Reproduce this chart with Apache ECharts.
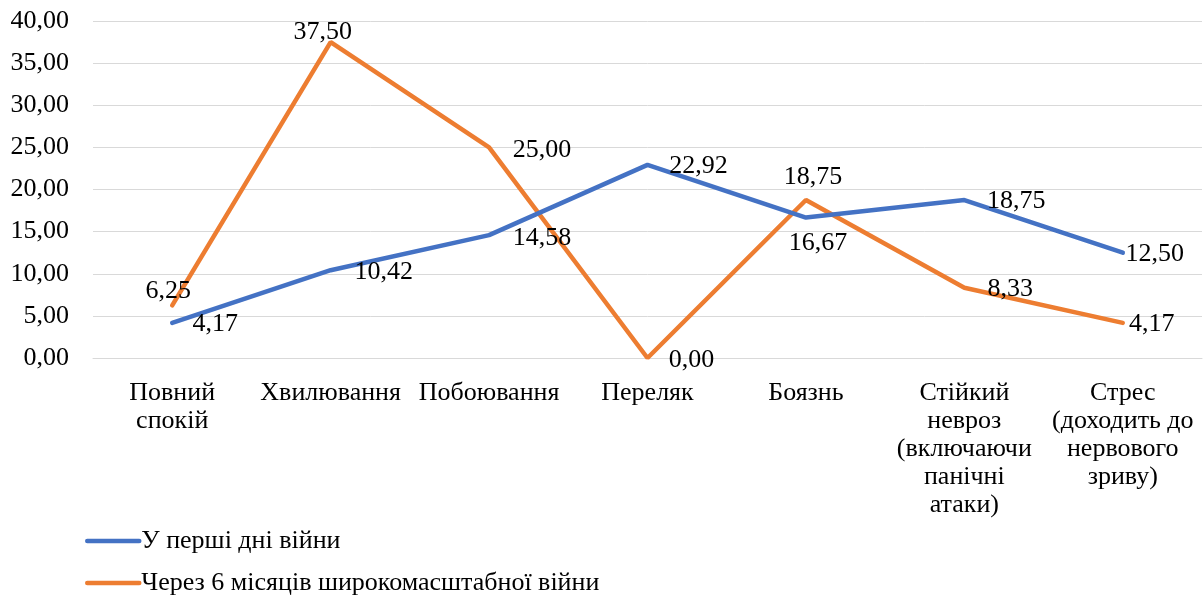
<!DOCTYPE html>
<html>
<head>
<meta charset="utf-8">
<script src="https://cdn.jsdelivr.net/npm/echarts@6/dist/echarts.min.js"></script>
<style>
html,body{margin:0;padding:0;background:#fff;}
#chart{width:1204px;height:601px;}
</style>
</head>
<body>
<div id="chart"></div>
<script>
// ---- data ----
var categories = [
  "Повний\nспокій",
  "Хвилювання",
  "Побоювання",
  "Переляк",
  "Боязнь",
  "Стійкий\nневроз\n(включаючи\nпанічні\nатаки)",
  "Стрес\n(доходить до\nнервового\nзриву)"
];
var seriesNames = ["У перші дні війни", "Через 6 місяців широкомасштабної війни"];
var firstDays = [4.17, 10.42, 14.58, 22.92, 16.67, 18.75, 12.50];
var sixMonths = [6.25, 37.50, 25.00, 0.00, 18.75, 8.33, 4.17];
var yMin = 0, yMax = 40, yStep = 5;

// ---- label placement (styling) ----
var firstOffsets = [[43,1],[53,2],[53,3],[51,1.5],[12,26],[52,1.5],[32,1]];
var sixOffsets = [[-4,-14],[-8,-9.5],[53,3],[44,2],[7,-23],[46,1],[29,1.5]];

function fmt(v){ return Number(v).toFixed(2).replace('.', ','); }
function buildData(vals, offs){
  return vals.map(function(v, i){
    return { value: v, label: { offset: offs[i] } };
  });
}

var FONT = '"Liberation Serif", "Times New Roman", serif';
var chart = echarts.init(document.getElementById('chart'), null, {renderer:'canvas'});
var labelStyle = {
  show: true,
  position: 'inside',
  align: 'center',
  verticalAlign: 'middle',
  color: '#000',
  fontFamily: FONT,
  fontSize: 26,
  formatter: function(p){ return fmt(p.value); }
};
chart.setOption({
  animation: false,
  backgroundColor: '#fff',
  grid: { left: 93, right: 2, top: 21, bottom: 243, containLabel: false },
  xAxis: {
    type: 'category',
    data: categories,
    boundaryGap: true,
    axisLine: { show: true, lineStyle: { color: '#D9D9D9', width: 1 } },
    axisTick: { show: false },
    axisLabel: {
      interval: 0,
      margin: 21,
      color: '#000',
      fontFamily: FONT,
      fontSize: 26,
      lineHeight: 28,
      align: 'center'
    },
    splitLine: { show: false }
  },
  yAxis: {
    type: 'value',
    min: yMin, max: yMax, interval: yStep,
    axisLine: { show: false },
    axisTick: { show: false },
    axisLabel: {
      margin: 24,
      color: '#000',
      fontFamily: FONT,
      fontSize: 26,
      formatter: function(v){ return fmt(v); }
    },
    splitLine: { show: true, lineStyle: { color: '#D9D9D9', width: 1 } }
  },
  legend: {
    orient: 'vertical',
    left: 85,
    top: 528,
    padding: 0,
    itemGap: 16,
    itemWidth: 52,
    itemHeight: 14,
    itemStyle: { opacity: 0 },
    lineStyle: { width: 4.5, cap: 'round' },
    textStyle: { color: '#000', fontFamily: FONT, fontSize: 26, padding: [0,0,0,-3] },
    data: seriesNames
  },
  series: [
    {
      name: seriesNames[0],
      type: 'line',
      data: buildData(firstDays, firstOffsets),
      symbol: 'circle',
      symbolSize: 0,
      showSymbol: true,
      itemStyle: { color: '#4472C4' },
      lineStyle: { color: '#4472C4', width: 4.5, cap: 'round' },
      label: labelStyle,
      z: 3
    },
    {
      name: seriesNames[1],
      type: 'line',
      data: buildData(sixMonths, sixOffsets),
      symbol: 'circle',
      symbolSize: 0,
      showSymbol: true,
      itemStyle: { color: '#ED7D31' },
      lineStyle: { color: '#ED7D31', width: 4.5, cap: 'round' },
      label: labelStyle,
      z: 2
    }
  ]
});
</script>
</body>
</html>
